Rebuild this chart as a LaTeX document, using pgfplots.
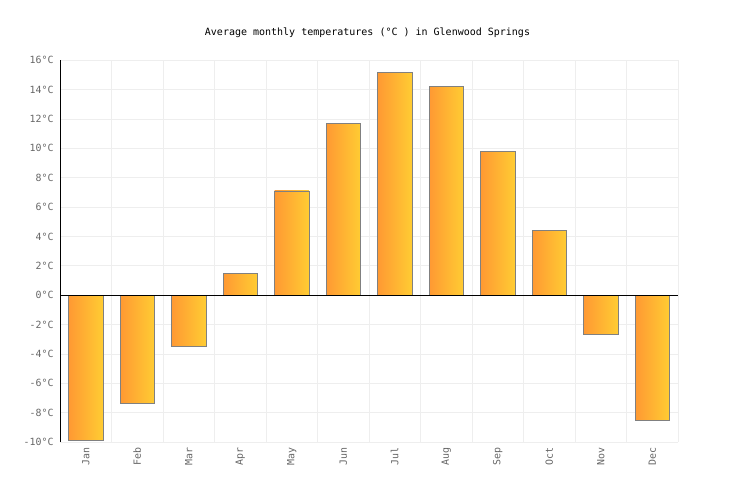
\documentclass[border=0pt]{standalone}
\usepackage{pgfplots}
\pgfplotsset{compat=1.18}
\usepackage{fontspec}
\setmainfont{DejaVu Sans Mono}
\definecolor{barleft}{HTML}{FF9933}
\definecolor{barright}{HTML}{FFCC33}
\definecolor{gridc}{HTML}{EEEEEE}
\definecolor{tickc}{HTML}{666666}
\definecolor{edgec}{HTML}{808080}

\begin{document}
\begin{tikzpicture}[x=1pt,y=1pt,
    tbar/.style={draw=edgec, line width=0.8pt, left color=barleft, right color=barright}]
\path[use as bounding box] (0,0) rectangle (736,500);
\begin{axis}[
    at={(60pt,58pt)}, anchor=south west,
    scale only axis,
    width=618pt, height=381.7pt,
    xmin=-0.5, xmax=11.5,
    ymin=-10, ymax=16,
    ytick={-10,-8,...,16},
    xtick={0,...,11},
    xticklabels={Jan,Feb,Mar,Apr,May,Jun,Jul,Aug,Sep,Oct,Nov,Dec},
    minor xtick={-0.5,0.5,...,11.5},
    major tick length=0pt, minor tick length=0pt,
    ymajorgrids=true, xminorgrids=true,
    grid style={gridc, line width=0.8pt},
    minor grid style={gridc, line width=0.8pt},
    axis line style={draw=none},
    /pgf/number format/assume math mode=true,
    yticklabel={\pgfmathprintnumber{\tick}°C},
    every tick label/.append style={font=\fontsize{9.9}{11}\selectfont, text=tickc},
    yticklabel style={xshift=-3pt},
    xticklabel style={rotate=90, anchor=east, xshift=-2pt},
    title={Average monthly temperatures (°C ) in Glenwood Springs},
    title style={at={(0.5,1)}, anchor=center, yshift=21.5pt, xshift=-1.5pt,
        font=\fontsize{10}{11}\selectfont},
    ybar, bar width=0.667, bar shift=0pt,
    clip=false,
]
\addplot[tbar] coordinates {(0,-9.9)};
\addplot[tbar] coordinates {(1,-7.4)};
\addplot[tbar] coordinates {(2,-3.5)};
\addplot[tbar] coordinates {(3,1.5)};
\addplot[tbar] coordinates {(4,7.1)};
\addplot[tbar] coordinates {(5,11.7)};
\addplot[tbar] coordinates {(6,15.2)};
\addplot[tbar] coordinates {(7,14.2)};
\addplot[tbar] coordinates {(8,9.8)};
\addplot[tbar] coordinates {(9,4.4)};
\addplot[tbar] coordinates {(10,-2.7)};
\addplot[tbar] coordinates {(11,-8.5)};
% zero line and left axis on top of the bars
\draw[black, line width=0.9pt] (axis cs:-0.5,0) -- (axis cs:11.5,0);
\draw[black, line width=0.9pt] (axis cs:-0.5,-10) -- (axis cs:-0.5,16);
\end{axis}
\end{tikzpicture}
\end{document}
